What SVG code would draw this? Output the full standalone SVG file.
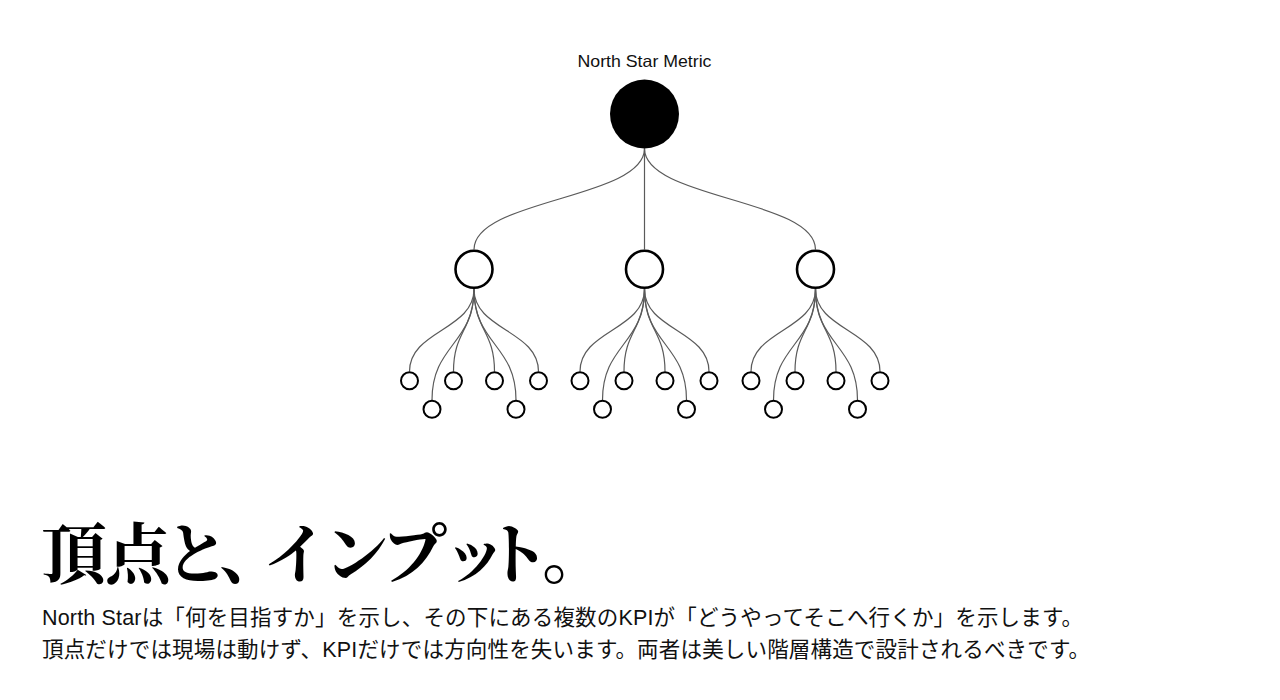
<svg xmlns="http://www.w3.org/2000/svg" width="1280" height="700" viewBox="0 0 1280 700">
<style>
.bg{fill:#ffffff}
.link{fill:none;stroke:#5a5a5a;stroke-width:1.2}
.root{fill:#000000}
.mid{fill:#ffffff;stroke:#000000;stroke-width:2.6}
.leaf{fill:#ffffff;stroke:#000000;stroke-width:2}
.label{font-family:"Liberation Sans","Noto Sans CJK JP",sans-serif;font-size:16.5px;fill:#111111}
.title{font-family:"Noto Serif CJK JP","Noto Sans CJK JP",serif;font-size:66px;font-weight:700;fill:#000000}
.body{font-family:"Liberation Sans","Noto Sans CJK JP",sans-serif;font-size:21.5px;fill:#111111}
</style>
<rect class="bg" x="0" y="0" width="1280" height="700"/>
<g id="connectors">
<path class="link" d="M644.5 148.5 C644.5 199 474 199 474 249.5"/>
<path class="link" d="M644.5 148.5 C644.5 199 644.5 199 644.5 249.5"/>
<path class="link" d="M644.5 148.5 C644.5 199 815.5 199 815.5 249.5"/>
<path class="link" d="M474 289 C474 330.25 409.5 330.25 409.5 371.5"/>
<path class="link" d="M474 289 C474 344.5 432 344.5 432 400"/>
<path class="link" d="M474 289 C474 330.25 453.5 330.25 453.5 371.5"/>
<path class="link" d="M474 289 C474 330.25 494.5 330.25 494.5 371.5"/>
<path class="link" d="M474 289 C474 344.5 516 344.5 516 400"/>
<path class="link" d="M474 289 C474 330.25 538.5 330.25 538.5 371.5"/>
<path class="link" d="M644.5 289 C644.5 330.25 580 330.25 580 371.5"/>
<path class="link" d="M644.5 289 C644.5 344.5 602.5 344.5 602.5 400"/>
<path class="link" d="M644.5 289 C644.5 330.25 624 330.25 624 371.5"/>
<path class="link" d="M644.5 289 C644.5 330.25 665 330.25 665 371.5"/>
<path class="link" d="M644.5 289 C644.5 344.5 686.5 344.5 686.5 400"/>
<path class="link" d="M644.5 289 C644.5 330.25 709 330.25 709 371.5"/>
<path class="link" d="M815.5 289 C815.5 330.25 751 330.25 751 371.5"/>
<path class="link" d="M815.5 289 C815.5 344.5 773.5 344.5 773.5 400"/>
<path class="link" d="M815.5 289 C815.5 330.25 795 330.25 795 371.5"/>
<path class="link" d="M815.5 289 C815.5 330.25 836 330.25 836 371.5"/>
<path class="link" d="M815.5 289 C815.5 344.5 857.5 344.5 857.5 400"/>
<path class="link" d="M815.5 289 C815.5 330.25 880 330.25 880 371.5"/>
</g>
<g id="root">
<text class="label" x="644.5" y="66.5" text-anchor="middle" textLength="134" lengthAdjust="spacingAndGlyphs">North Star Metric</text>
<circle class="root" cx="644.5" cy="114" r="34.5"/>
</g>
<g id="kpi-1"><circle class="mid" cx="474" cy="269.3" r="18.5"/></g>
<g id="kpi-2"><circle class="mid" cx="644.5" cy="269.3" r="18.5"/></g>
<g id="kpi-3"><circle class="mid" cx="815.5" cy="269.3" r="18.5"/></g>
<g id="input-1-1"><circle class="leaf" cx="409.5" cy="380.7" r="8.5"/></g>
<g id="input-1-2"><circle class="leaf" cx="432" cy="409.3" r="8.5"/></g>
<g id="input-1-3"><circle class="leaf" cx="453.5" cy="380.7" r="8.5"/></g>
<g id="input-1-4"><circle class="leaf" cx="494.5" cy="380.7" r="8.5"/></g>
<g id="input-1-5"><circle class="leaf" cx="516" cy="409.3" r="8.5"/></g>
<g id="input-1-6"><circle class="leaf" cx="538.5" cy="380.7" r="8.5"/></g>
<g id="input-2-1"><circle class="leaf" cx="580" cy="380.7" r="8.5"/></g>
<g id="input-2-2"><circle class="leaf" cx="602.5" cy="409.3" r="8.5"/></g>
<g id="input-2-3"><circle class="leaf" cx="624" cy="380.7" r="8.5"/></g>
<g id="input-2-4"><circle class="leaf" cx="665" cy="380.7" r="8.5"/></g>
<g id="input-2-5"><circle class="leaf" cx="686.5" cy="409.3" r="8.5"/></g>
<g id="input-2-6"><circle class="leaf" cx="709" cy="380.7" r="8.5"/></g>
<g id="input-3-1"><circle class="leaf" cx="751" cy="380.7" r="8.5"/></g>
<g id="input-3-2"><circle class="leaf" cx="773.5" cy="409.3" r="8.5"/></g>
<g id="input-3-3"><circle class="leaf" cx="795" cy="380.7" r="8.5"/></g>
<g id="input-3-4"><circle class="leaf" cx="836" cy="380.7" r="8.5"/></g>
<g id="input-3-5"><circle class="leaf" cx="857.5" cy="409.3" r="8.5"/></g>
<g id="input-3-6"><circle class="leaf" cx="880" cy="380.7" r="8.5"/></g>
<g id="caption">
<text class="title" x="41 105 164 219 263 323 381 442 484 542" y="577.5">頂点と、インプット。</text>
<text class="body" x="42" y="625" textLength="1041" lengthAdjust="spacing">North Starは「何を目指すか」を示し、その下にある複数のKPIが「どうやってそこへ行くか」を示します。</text>
<text class="body" x="42" y="657" textLength="1048" lengthAdjust="spacing">頂点だけでは現場は動けず、KPIだけでは方向性を失います。両者は美しい階層構造で設計されるべきです。</text>
</g>
</svg>
